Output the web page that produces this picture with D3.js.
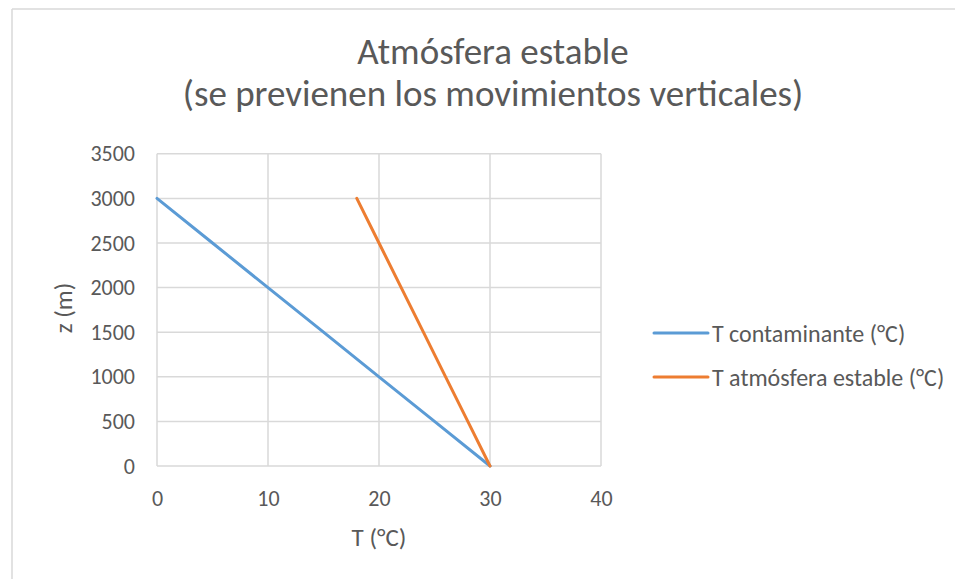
<!DOCTYPE html>
<html><head><meta charset="utf-8">
<script src="https://cdn.jsdelivr.net/npm/d3@7"></script>
<style>
html,body{margin:0;padding:0;background:#fff;}
svg text{font-family:Calibri, Carlito, Lato, "Open Sans", sans-serif;fill:#595959;}
</style></head>
<body>
<svg id="c" width="955" height="579"></svg>
<script>
const altitudes = [0, 500, 1000, 1500, 2000, 2500, 3000];
const tContaminante = [30, 25, 20, 15, 10, 5, 0];
const tAtmosfera = [30, 28, 26, 24, 22, 20, 18];
const seriesNames = ["T contaminante (°C)", "T atmósfera estable (°C)"];
const seriesColors = ["#5B9BD5", "#ED7D31"];
const xTicks = [0, 10, 20, 30, 40];
const yTicks = [0, 500, 1000, 1500, 2000, 2500, 3000, 3500];
const titleLines = ["Atmósfera estable", "(se previenen los movimientos verticales)"];

const svg = d3.select("#c");
// chart border (top and left visible)
svg.append("line").attr("x1",12).attr("x2",955).attr("y1",9).attr("y2",9).attr("stroke","#D9D9D9").attr("stroke-width",1.5);
svg.append("line").attr("x1",12).attr("x2",12).attr("y1",9).attr("y2",579).attr("stroke","#D9D9D9").attr("stroke-width",1.5);

const x = d3.scaleLinear().domain([0,40]).range([157,601]);
const y = d3.scaleLinear().domain([0,3500]).range([466,153.8]);

// gridlines
svg.append("g").selectAll("line").data(yTicks).join("line")
  .attr("x1",x(0)).attr("x2",x(40)).attr("y1",d=>y(d)).attr("y2",d=>y(d))
  .attr("stroke","#D9D9D9").attr("stroke-width",1.5);
svg.append("g").selectAll("line").data(xTicks).join("line")
  .attr("y1",y(0)).attr("y2",y(3500)).attr("x1",d=>x(d)).attr("x2",d=>x(d))
  .attr("stroke","#D9D9D9").attr("stroke-width",1.5);

// axes labels via d3 axes
const xAxis = svg.append("g").attr("transform",`translate(0,${y(0)})`)
  .call(d3.axisBottom(x).tickValues(xTicks).tickFormat(d3.format("d")).tickSize(0).tickPadding(24));
xAxis.select(".domain").remove();
xAxis.selectAll("text").style("font-size","22px").attr("fill","#595959");
const yAxis = svg.append("g").attr("transform",`translate(${x(0)},0)`)
  .call(d3.axisLeft(y).tickValues(yTicks).tickFormat(d3.format("d")).tickSize(0).tickPadding(22));
yAxis.select(".domain").remove();
yAxis.selectAll("text").style("font-size","22px").attr("fill","#595959");

// lines
const data = [tContaminante, tAtmosfera];
const line = d3.line().x(d=>x(d[0])).y(d=>y(d[1]));
data.forEach((s,i)=>{
  svg.append("path").datum(s.map((t,j)=>[t, altitudes[j]]))
    .attr("d",line).attr("fill","none").attr("stroke",seriesColors[i])
    .attr("stroke-width",3).attr("stroke-linecap","round").attr("stroke-linejoin","round");
});

// title
svg.selectAll(".title").data(titleLines).join("text").attr("class","title")
  .attr("x",493).attr("y",(d,i)=>64+i*42).attr("text-anchor","middle")
  .style("font-size","37px").text(d=>d);

// axis titles
svg.append("text").attr("x",379).attr("y",546).attr("text-anchor","middle")
  .style("font-size","25px").text("T (°C)");
svg.append("text").attr("transform","translate(72,308) rotate(-90)").attr("text-anchor","middle")
  .style("font-size","25px").text("z (m)");

// legend
seriesNames.forEach((n,i)=>{
  const ly = 333 + i*44;
  svg.append("line").attr("x1",654).attr("x2",708).attr("y1",ly).attr("y2",ly)
    .attr("stroke",seriesColors[i]).attr("stroke-width",3).attr("stroke-linecap","round");
  svg.append("text").attr("x",712).attr("y",ly+8.5).style("font-size","24px").text(n);
});
</script>
</body></html>
